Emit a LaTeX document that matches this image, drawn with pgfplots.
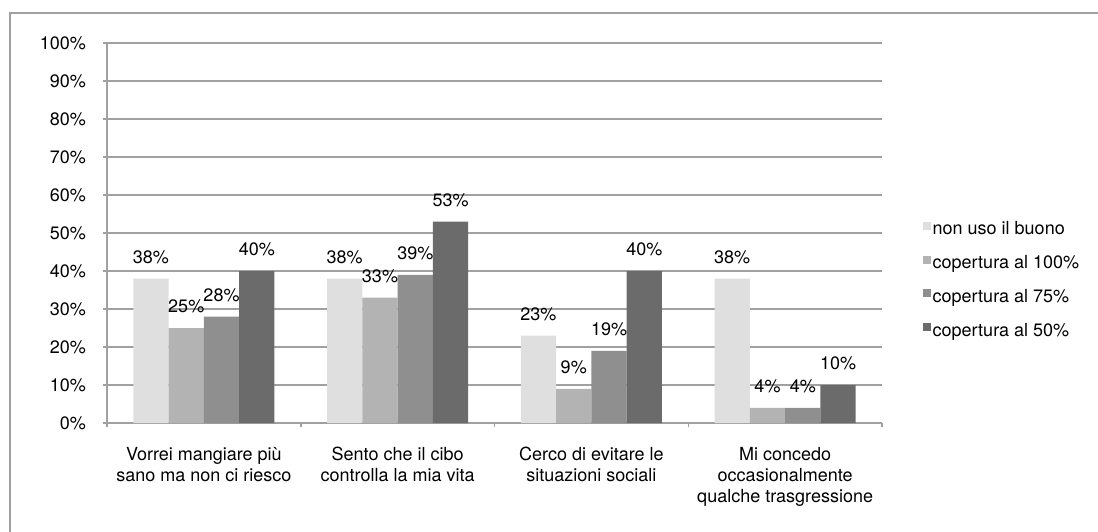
\documentclass[border=0pt]{standalone}
\usepackage{pgfplots}
\pgfplotsset{compat=1.18}
\usepackage{pgfplotstable}
\usepackage{fontspec}
\setmainfont{TeX Gyre Heros}

\definecolor{serA}{HTML}{DFDFDF}
\definecolor{serB}{HTML}{B3B3B3}
\definecolor{serC}{HTML}{8F8F8F}
\definecolor{serD}{HTML}{6B6B6B}
\definecolor{rulegray}{HTML}{A0A0A0}

% percentages per category (0..3) for each coverage group
\pgfplotstableread{
x nonuso c100 c75 c50
0 38 25 28 40
1 38 33 39 53
2 23 9  19 40
3 38 4  4  10
}\datatable

\begin{document}
\begin{tikzpicture}[font=\fontsize{18}{21}\selectfont]
\useasboundingbox (0,0) rectangle (1098pt,531pt);
\begin{scope}
  \clip (0,0) rectangle (1098pt,531pt);
  \draw[rulegray, line width=2.4pt] (10pt,-10pt) -- (10pt,518pt) -- (1110pt,518pt);
\end{scope}
\begin{axis}[
  at={(107pt,108pt)}, anchor=south west,
  scale only axis, width=775pt, height=380pt,
  ybar=0pt, bar width=0.182,
  xmin=-0.5, xmax=3.5, ymin=0, ymax=100,
  axis x line*=bottom, axis y line*=left,
  axis line style={rulegray, line width=1.8pt},
  ytick={0,10,...,100},
  yticklabel={\pgfmathprintnumber{\tick}\%},
  /pgf/number format/assume math mode=true,
  ymajorgrids, major grid style={rulegray, line width=1.8pt},
  xtick={-0.5,0.5,1.5,2.5,3.5},
  x tick label as interval,
  xticklabels={{Vorrei mangiare più\\sano ma non ci riesco},
               {Sento che il cibo\\controlla la mia vita},
               {Cerco di evitare le\\situazioni sociali},
               {Mi concedo\\occasionalmente\\qualche trasgressione}},
  xticklabel style={align=center, anchor=north, inner sep=0pt, yshift=-20pt},
  yticklabel style={anchor=east, inner sep=0pt, xshift=-17pt},
  tick align=outside, major tick length=4pt,
  tick style={rulegray, line width=1.5pt},
  nodes near coords={\pgfmathprintnumber{\pgfplotspointmeta}\%},
  every node near coord/.append style={anchor=base, yshift=15.5pt, inner sep=0pt, text=black},
  legend style={at={(1.0525,0.5316)}, anchor=north west, draw=none, fill=none,
    inner sep=0pt, outer sep=0pt, row sep=15.7pt, legend cell align=left,
    nodes={inner xsep=2pt, inner ysep=0pt, text height=14pt, text depth=4pt}},
  legend image code/.code={\fill[#1] (0pt,0pt) rectangle (8pt,8pt);},
]
\addplot[fill=serA, draw=none] table[x=x, y=nonuso] {\datatable};
\addplot[fill=serB, draw=none] table[x=x, y=c100] {\datatable};
\addplot[fill=serC, draw=none] table[x=x, y=c75] {\datatable};
\addplot[fill=serD, draw=none] table[x=x, y=c50] {\datatable};
\legend{non uso il buono, copertura al 100\%, copertura al 75\%, copertura al 50\%}
\end{axis}
\end{tikzpicture}
\end{document}
